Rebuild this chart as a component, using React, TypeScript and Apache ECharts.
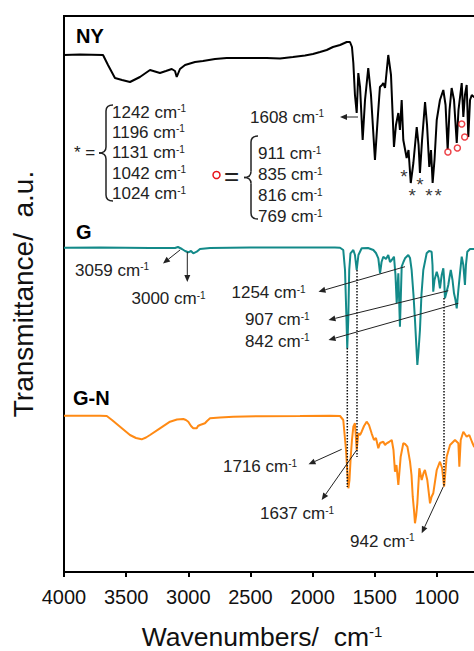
import React, { useEffect, useRef } from "react";
import * as echarts from "echarts";

const FONT = '"Liberation Sans", Arial, Helvetica, sans-serif';

// Wavenumber tick labels shown (500 falls outside the cropped view)
const xTicks = [4000, 3500, 3000, 2500, 2000, 1500, 1000];

// NY spectrum (black)
const nyWn = [4000, 3871, 3686, 3646, 3590, 3533, 3469, 3389, 3308, 3228, 3180, 3133, 3107, 3093, 3067, 3026, 2946, 2882, 2785, 2691, 2544, 2369, 2262, 2158, 2061, 1997, 1940, 1886, 1836, 1779, 1725, 1699, 1683, 1672, 1659, 1645, 1632, 1618, 1597, 1578, 1552, 1530, 1498, 1474, 1458, 1441, 1431, 1417, 1391, 1369, 1345, 1329, 1310, 1297, 1283, 1270, 1243, 1228, 1210, 1189, 1162, 1147, 1136, 1119, 1095, 1079, 1061, 1047, 1034, 1019, 1001, 975, 948, 930, 913, 898, 881, 862, 840, 826, 800, 787, 774, 760, 747, 733, 719, 701, 650];
const nyT = [517, 517.5, 517, 507, 494, 492, 490, 495, 502, 499, 501, 503, 501, 495, 503, 507, 510, 511, 513, 514, 514, 514, 513.5, 515, 516.5, 518, 520, 522, 525, 527, 530, 530, 525, 509, 477, 459, 499, 485, 432, 472, 504, 477, 412, 457, 485, 487, 489, 484, 517, 497, 425, 447, 459, 442, 472, 432, 414, 422, 389, 409, 445, 427, 399, 432, 470, 447, 405, 422, 389, 412, 452, 472, 482, 467, 422, 462, 484, 472, 429, 462, 489, 455, 477, 487, 435, 472, 477, 475, 475];

// G spectrum (teal)
const gWn = [4000, 3710, 3308, 3107, 3083, 3051, 3026, 3000, 2978, 2960, 2932, 2906, 2825, 2503, 2101, 1820, 1779, 1753, 1739, 1727, 1721, 1713, 1705, 1695, 1672, 1659, 1645, 1631, 1605, 1554, 1511, 1490, 1471, 1457, 1445, 1431, 1409, 1391, 1377, 1363, 1345, 1333, 1323, 1310, 1297, 1283, 1269, 1256, 1230, 1216, 1203, 1188, 1176, 1157, 1148, 1136, 1124, 1109, 1082, 1063, 1042, 1035, 1029, 1019, 1001, 987, 975, 961, 948, 941, 935, 922, 908, 898, 888, 874, 862, 850, 840, 827, 814, 800, 787, 774, 766, 755, 733, 701, 650];
const gT = [324.3, 324.5, 324, 324, 325, 323, 321, 319.7, 321, 318.7, 320.3, 323, 324, 324.5, 324.5, 324.5, 324.3, 322, 302, 252, 223.7, 252, 302, 318.7, 322, 317, 302, 317, 323.7, 324, 322, 319, 313.7, 298.7, 310, 315.3, 313, 317, 310, 312, 315.3, 297, 268.7, 298.7, 245.3, 305.3, 310, 313.7, 317, 314, 302, 277, 252, 207, 220, 242, 277, 302, 318.7, 321, 320.3, 307, 280.3, 292, 300.3, 294, 283.7, 297, 303.7, 292, 273.7, 280, 287, 295, 302, 292, 278.7, 272, 263.7, 282, 298.7, 315.3, 307, 287, 307, 320.3, 323, 323, 323];

// G-N spectrum (orange)
const gnWn = [4000, 3710, 3656, 3614, 3549, 3469, 3421, 3375, 3340, 3308, 3228, 3147, 3091, 3040, 3019, 3000, 2978, 2960, 2932, 2922, 2906, 2866, 2849, 2825, 2745, 2638, 2423, 2101, 1860, 1779, 1753, 1731, 1712, 1703, 1693, 1683, 1672, 1659, 1645, 1632, 1618, 1605, 1586, 1565, 1546, 1525, 1506, 1490, 1471, 1457, 1431, 1417, 1404, 1385, 1363, 1349, 1337, 1325, 1310, 1291, 1270, 1256, 1237, 1216, 1204, 1194, 1184, 1176, 1166, 1157, 1141, 1122, 1107, 1096, 1077, 1055, 1043, 1029, 1001, 975, 958, 942, 930, 921, 894, 854, 827, 819, 808, 787, 760, 739, 717, 701, 650];
const gnT = [156.3, 156.3, 156, 152, 145.3, 137, 134, 132.7, 134.5, 137, 143.7, 150.3, 152.5, 153, 152, 150.3, 146, 143.7, 143.7, 146, 147, 148.7, 151, 153.7, 154.5, 155.3, 155.8, 156, 156.3, 156, 152, 122, 83.7, 92, 115.3, 132, 145.3, 148.7, 122, 138.7, 137, 140.3, 146, 150.3, 147, 138.7, 132, 134, 123.7, 129, 130.3, 127, 128.7, 130, 132, 122, 100.3, 107, 87, 115.3, 128.7, 128, 125.3, 110.3, 97, 75.3, 62, 48.7, 57, 68.7, 103.7, 92, 99, 102, 92, 68.7, 75, 78.7, 102, 110.3, 104, 85.3, 102, 115.3, 127, 132, 128.7, 105.3, 132, 140.3, 135.3, 137, 130, 125.3, 125.3];

// Marked peaks on NY
const starWn = [1264, 1198, 1136, 1063, 989];
const starT = [398.7, 380, 391, 380, 380];
const circleWn = [911, 835, 800, 776];
const circleT = [420, 424, 448, 435];

// Annotation texts
const starLabels = ["1242", "1196", "1131", "1042", "1024"];
const circleLabels = ["911", "835", "816", "769"];

const TXT = "#222";

function cm(x: number, y: number, num: string, size = 17) {
  return {
    type: "text",
    x,
    y,
    z: 10,
    style: {
      text: `{n|${num} cm}{s|-1}`,
      verticalAlign: "middle",
      align: "left",
      rich: {
        n: { fontSize: size, fontFamily: FONT, fill: TXT },
        s: { fontSize: 10, fontFamily: FONT, fill: TXT, verticalAlign: "top" },
      },
    },
  };
}

function arrow(x1: number, y1: number, x2: number, y2: number) {
  const ang = Math.atan2(y2 - y1, x2 - x1);
  const L = 7;
  const W = 3;
  const bx = x2 - L * Math.cos(ang);
  const by = y2 - L * Math.sin(ang);
  const px = -Math.sin(ang) * W;
  const py = Math.cos(ang) * W;
  return [
    { type: "line", z: 10, shape: { x1, y1, x2: bx, y2: by }, style: { stroke: TXT, lineWidth: 1 } },
    {
      type: "polygon",
      z: 10,
      shape: { points: [[x2, y2], [bx + px, by + py], [bx - px, by - py]] },
      style: { fill: TXT },
    },
  ];
}

function brace(x: number, top: number, bottom: number, w: number, color: string) {
  const mid = (top + bottom) / 2;
  const r = 6;
  const xm = x + w / 2;
  const st = { stroke: color, lineWidth: 1.5, fill: "none" };
  return [
    { type: "bezierCurve", z: 10, shape: { x1: x + w, y1: top, x2: xm, y2: top + r, cpx1: xm, cpy1: top }, style: st },
    { type: "line", z: 10, shape: { x1: xm, y1: top + r, x2: xm, y2: mid - r }, style: st },
    { type: "bezierCurve", z: 10, shape: { x1: xm, y1: mid - r, x2: x, y2: mid, cpx1: xm, cpy1: mid }, style: st },
    { type: "bezierCurve", z: 10, shape: { x1: x, y1: mid, x2: xm, y2: mid + r, cpx1: xm, cpy1: mid }, style: st },
    { type: "line", z: 10, shape: { x1: xm, y1: mid + r, x2: xm, y2: bottom - r }, style: st },
    { type: "bezierCurve", z: 10, shape: { x1: xm, y1: bottom - r, x2: x + w, y2: bottom, cpx1: xm, cpy1: bottom }, style: st },
  ];
}

function dotted(x: number, y1: number, y2: number) {
  return {
    type: "line",
    z: 10,
    shape: { x1: x, y1, x2: x, y2 },
    style: { stroke: "#111", lineWidth: 1.5, lineDash: [1.5, 1.5] },
  };
}

function bold(x: number, y: number, t: string) {
  return {
    type: "text",
    x,
    y,
    z: 10,
    style: { text: t, fontSize: 20, fontWeight: "bold", fontFamily: FONT, fill: "#000", verticalAlign: "middle" },
  };
}

export default function App() {
  const ref = useRef<HTMLDivElement>(null);
  useEffect(() => {
    if (!ref.current) return;
    const chart = echarts.init(ref.current, undefined, { renderer: "svg" });
    const zip = (a: number[], b: number[]) => a.map((v, i) => [v, b[i]]);
    const graphics: any[] = [
      bold(76, 36, "NY"),
      bold(76, 232, "G"),
      bold(73, 398, "G-N"),
      // star legend
      { type: "text", x: 74, y: 152, z: 10, style: { text: "* =", fontSize: 17, fontFamily: FONT, fill: TXT, verticalAlign: "middle" } },
      ...brace(99, 105, 201, 14, TXT),
      ...starLabels.map((l, i) => cm(112, 112 + i * 20.4, l)),
      // circle legend
      { type: "circle", z: 10, shape: { cx: 216.5, cy: 175, r: 3.5 }, style: { fill: "none", stroke: "#e8141b", lineWidth: 1.5 } },
      { type: "text", x: 224, y: 176, z: 10, style: { text: "=", fontSize: 26, fontFamily: FONT, fill: TXT, verticalAlign: "middle" } },
      ...brace(244, 136, 219, 14, TXT),
      ...circleLabels.map((l, i) => cm(258, 153.5 + i * 21, l)),
      // 1608
      cm(250, 117, "1608"),
      ...arrow(358, 117, 340, 117),
      // G annotations
      cm(75, 270, "3059"),
      ...arrow(180, 250, 163, 263.5),
      cm(131.5, 298.5, "3000"),
      ...arrow(187.3, 252, 187.3, 282),
      cm(231.5, 292.5, "1254"),
      ...arrow(405, 266.7, 318.5, 291.7),
      cm(245, 319.5, "907"),
      ...arrow(448.3, 290.7, 328.5, 320),
      cm(245, 341, "842"),
      ...arrow(458.3, 303.3, 328.5, 340),
      // G-N annotations
      cm(223, 466.5, "1716"),
      ...arrow(341.7, 449.3, 308.5, 464.3),
      cm(260, 513.5, "1637"),
      ...arrow(356.7, 450, 321.7, 500),
      cm(350, 541, "942"),
      ...arrow(443.3, 486.7, 421.7, 533.3),
      // dotted guides
      dotted(347.3, 348, 487),
      dotted(357, 270, 457),
      dotted(444, 298, 487),
      // axis titles
      {
        type: "text",
        x: 23,
        y: 294,
        rotation: Math.PI / 2,
        style: {
          text: "Transmittance/\u00A0 a.u.",
          fontSize: 28,
          fontFamily: FONT,
          fill: "#111",
          align: "center",
          verticalAlign: "middle",
        },
      },
      {
        type: "text",
        x: 262,
        y: 637,
        style: {
          text: "{n|Wavenumbers/\u00A0 cm}{s|-1}",
          align: "center",
          verticalAlign: "middle",
          rich: {
            n: { fontSize: 26.5, fontFamily: FONT, fill: "#111" },
            s: { fontSize: 15, fontFamily: FONT, fill: "#111", verticalAlign: "top" },
          },
        },
      },
    ];

    chart.setOption({
      animation: false,
      backgroundColor: "#fff",
      grid: {
        left: 64,
        right: 1,
        top: 16,
        bottom: 79,
        show: true,
        borderColor: "#000",
        borderWidth: 2,
        containLabel: false,
        outerBoundsMode: "none",
      },
      xAxis: {
        type: "value",
        inverse: true,
        min: 500,
        max: 4000,
        interval: 500,
        axisLine: { show: true, lineStyle: { color: "#000", width: 2 } },
        axisTick: { show: true, length: 5, lineStyle: { color: "#000", width: 2 } },
        axisLabel: {
          fontSize: 20,
          fontFamily: FONT,
          color: "#111",
          margin: 15,
          formatter: (v: number) => (xTicks.includes(v) ? String(v) : ""),
        },
        splitLine: { show: false },
      },
      yAxis: {
        type: "value",
        min: 0,
        max: 556,
        axisLine: { show: true, lineStyle: { color: "#000", width: 2 } },
        axisTick: { show: false },
        axisLabel: { show: false },
        splitLine: { show: false },
      },
      series: [
        {
          type: "line",
          name: "NY",
          data: zip(nyWn, nyT),
          showSymbol: false,
          lineStyle: { color: "#000", width: 2 },
          itemStyle: { color: "#000" },
        },
        {
          type: "line",
          name: "G",
          data: zip(gWn, gT),
          showSymbol: false,
          lineStyle: { color: "#138a89", width: 2 },
          itemStyle: { color: "#138a89" },
        },
        {
          type: "line",
          name: "G-N",
          data: zip(gnWn, gnT),
          showSymbol: false,
          lineStyle: { color: "#ff8a14", width: 2 },
          itemStyle: { color: "#ff8a14" },
        },
        {
          type: "scatter",
          name: "stars",
          data: zip(starWn, starT),
          symbolSize: 1,
          itemStyle: { color: "rgba(0,0,0,0)" },
          label: {
            show: true,
            position: "inside",
            formatter: "*",
            fontSize: 19,
            fontFamily: FONT,
            color: "#000",
            offset: [0, 3],
          },
          z: 5,
        },
        {
          type: "scatter",
          name: "circles",
          data: zip(circleWn, circleT),
          symbol: "circle",
          symbolSize: 6,
          itemStyle: { color: "#fff", borderColor: "#e8141b", borderWidth: 1.5 },
          z: 5,
        },
      ],
      graphic: { elements: graphics },
    });
    return () => chart.dispose();
  }, []);

  return (
    <div style={{ position: "absolute", left: 0, top: 0, width: 474, height: 651, overflow: "hidden", background: "#fff" }}>
      <div ref={ref} style={{ width: 500, height: 651 }} />
    </div>
  );
}
